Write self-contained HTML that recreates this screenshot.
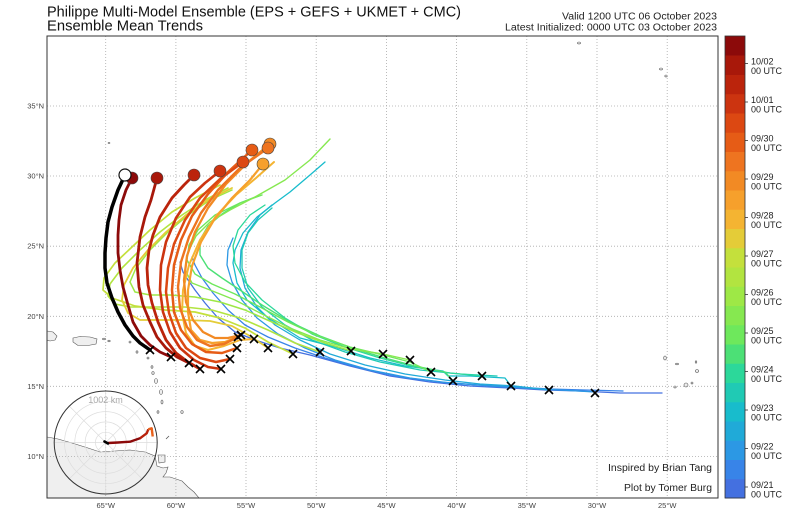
<!DOCTYPE html>
<html><head><meta charset="utf-8"><style>
html,body{margin:0;padding:0;background:#fff;}
svg{display:block;}
text{font-family:"Liberation Sans",sans-serif;}
</style></head><body>
<svg width="800" height="514" viewBox="0 0 800 514" xmlns="http://www.w3.org/2000/svg">
<rect width="800" height="514" fill="#fff"/>
<!-- titles -->
<text x="47" y="16.5" font-size="15" fill="#111" textLength="414" lengthAdjust="spacingAndGlyphs">Philippe Multi-Model Ensemble (EPS + GEFS + UKMET + CMC)</text>
<text x="47" y="30.5" font-size="15" fill="#111" textLength="156" lengthAdjust="spacingAndGlyphs">Ensemble Mean Trends</text>
<text x="717" y="19.3" font-size="10" fill="#222" text-anchor="end" textLength="155" lengthAdjust="spacingAndGlyphs">Valid 1200 UTC 06 October 2023</text>
<text x="717" y="30.7" font-size="10" fill="#222" text-anchor="end" textLength="212" lengthAdjust="spacingAndGlyphs">Latest Initialized: 0000 UTC 03 October 2023</text>

<defs><clipPath id="mapclip"><rect x="47" y="36" width="671" height="462"/></clipPath></defs>

<g clip-path="url(#mapclip)">
<!-- land -->
<g fill="#efefef" stroke="#555" stroke-width="0.6">
<path d="M47,437 L58,439 L72,443 L88,448 L100,452 L115,451 L130,450 L145,452 L155,456 L157,466 L163,468 L168,467 L166,473 L163,477 L170,477 L176,479 L182,481 L188,487 L194,492 L199,498 L47,498 Z"/>
<path d="M158,455 L165,455 L165,462 L159,463 Z"/>
<path d="M73,338 L80,336.5 L90,337 L97,339 L96,344 L88,345.5 L78,345.5 L73,342 Z"/>
<path d="M47,331 L53,332 L57,336 L55,340 L50,341 L47,340 Z"/>
<ellipse cx="104" cy="339" rx="1.5" ry="0.8"/>
<ellipse cx="109" cy="341" rx="1.2" ry="0.8"/>
<ellipse cx="130" cy="342" rx="1" ry="1"/>
<ellipse cx="137" cy="352" rx="1" ry="1.2"/>
<ellipse cx="148" cy="358" rx="1" ry="1"/>
<ellipse cx="152" cy="367" rx="1" ry="1.3"/>
<ellipse cx="153" cy="373" rx="1.2" ry="1.5"/>
<ellipse cx="156" cy="381" rx="1.5" ry="2.5"/>
<ellipse cx="161" cy="392" rx="1.5" ry="2.5"/>
<ellipse cx="162" cy="402" rx="1" ry="2"/>
<ellipse cx="158" cy="412" rx="1" ry="1.3"/>
<ellipse cx="182" cy="412" rx="1.2" ry="1.5"/>
<ellipse cx="109" cy="143" rx="1" ry="0.6"/>
<ellipse cx="579" cy="43" rx="1.5" ry="1"/>
<ellipse cx="661" cy="69" rx="1.5" ry="1"/>
<ellipse cx="666" cy="76" rx="1.2" ry="1"/>
<ellipse cx="665" cy="358" rx="1.3" ry="2"/>
<ellipse cx="677" cy="364" rx="1.5" ry="0.8"/>
<ellipse cx="696" cy="362" rx="0.8" ry="1.2"/>
<ellipse cx="697" cy="371" rx="1.5" ry="1.5"/>
<ellipse cx="675" cy="387" rx="1.2" ry="1"/>
<ellipse cx="686" cy="385" rx="2" ry="2"/>
<ellipse cx="692" cy="383" rx="1" ry="1"/>
</g>
<path d="M166,439 L169,436" stroke="#555" stroke-width="0.8"/>

<!-- gridlines -->
<g stroke="#aaa" stroke-width="0.8" stroke-dasharray="1,2">
<line x1="105.7" y1="36" x2="105.7" y2="498"/>
<line x1="175.9" y1="36" x2="175.9" y2="498"/>
<line x1="246" y1="36" x2="246" y2="498"/>
<line x1="316.2" y1="36" x2="316.2" y2="498"/>
<line x1="386.4" y1="36" x2="386.4" y2="498"/>
<line x1="456.6" y1="36" x2="456.6" y2="498"/>
<line x1="526.8" y1="36" x2="526.8" y2="498"/>
<line x1="597" y1="36" x2="597" y2="498"/>
<line x1="667.2" y1="36" x2="667.2" y2="498"/>
<line x1="47" y1="106" x2="718" y2="106"/>
<line x1="47" y1="176" x2="718" y2="176"/>
<line x1="47" y1="246.2" x2="718" y2="246.2"/>
<line x1="47" y1="316.3" x2="718" y2="316.3"/>
<line x1="47" y1="386.3" x2="718" y2="386.3"/>
<line x1="47" y1="456.4" x2="718" y2="456.4"/>
</g>

<!-- tracks -->
<g fill="none" stroke-linejoin="round" stroke-linecap="round">
<polyline stroke="#4470e0" stroke-width="1.3" points="662,393 620,393 580,391 545,390 510,388 470,386 430,382 390,376 350,366 310,355 280,348 255,340 235,332 218,318 205,303 195,290 188,280 183,272 180,262"/>
<polyline stroke="#3884e8" stroke-width="1.3" points="623,391 585,390 550,389 515,387 480,385 440,382 400,377 360,368 325,358 295,348 268,337 245,325 228,310 213,293 202,278 195,265 192,257"/>
<polyline stroke="#2c98e4" stroke-width="1.3" points="595,392 560,390 525,388 490,386 450,383 410,378 370,370 335,360 305,348 278,334 257,318 242,300 232,282 227,265 228,250 233,238"/>
<polyline stroke="#20aad8" stroke-width="1.3" points="549,390 515,386 480,384 445,380 405,374 365,365 330,354 300,340 275,325 257,307 245,288 240,268 241,250 248,232 260,215 272,205"/>
<polyline stroke="#18bccc" stroke-width="1.3" points="511,386 505,378 470,376 448,376 443,371 405,366 370,358 335,347 300,338 267,317 247,300 237,283 233,263 235,250 243,233 257,217 275,203 290,192 310,175 325,162"/>
<polyline stroke="#20cab4" stroke-width="1.3" points="497,376 460,374 420,370 380,362 345,352 312,340 285,325 262,307 248,288 242,268 242,250 248,233 258,220 272,208"/>
<polyline stroke="#2cd89a" stroke-width="1.3" points="482,376 450,373 415,367 380,358 345,347 312,334 285,318 262,300 245,282 235,263 233,246 238,230 250,215 265,205"/>
<polyline stroke="#4ce076" stroke-width="1.4" points="453,381 445,372 415,366 385,358 352,348 320,336 290,322 262,305 240,290 222,278 208,268 200,255 200,240 208,226 222,214 240,203 258,196"/>
<polyline stroke="#6ee85c" stroke-width="1.4" points="431,372 410,362 383,355 350,347 318,336 288,322 260,307 235,294 212,284 195,274 187,260 189,245 198,230 215,215 240,203 262,195"/>
<polyline stroke="#86e850" stroke-width="1.4" points="410,360 383,354 351,349 320,340 290,328 262,314 235,300 210,290 192,283 185,270 188,252 196,236 210,222 230,210 255,197 285,180 310,160 330,139"/>
<polyline stroke="#9ee846" stroke-width="1.5" points="351,351 325,343 298,333 272,322 245,310 220,302 195,297 170,295 150,295 135,292 130,282 136,268 150,250 168,232 188,215 210,200 232,190"/>
<polyline stroke="#b2e440" stroke-width="1.6" points="320,352 295,343 268,330 240,318 212,310 185,307 155,307 130,307 115,304 108,296 110,284 122,268 140,250 160,232 182,215 205,200 228,188"/>
<polyline stroke="#c4e03c" stroke-width="1.7" points="293,354 268,342 245,328 220,318 195,312 165,310 135,306 112,298 103,290 104,278 115,263 132,247 150,230 172,212 195,198 220,185"/>
<polyline stroke="#e4cc38" stroke-width="1.8" points="268,348 250,336 232,326 210,321 185,320 160,320 140,320 128,313 122,300 124,285 133,268 148,250 166,232 186,215 208,200 232,188"/>
<polyline stroke="#f4b432" stroke-width="2" points="254,339 240,340 224,346 208,350 195,346 186,333 182,313 183,290 189,265 200,240 216,216 236,195 256,178 274,162"/>
<polyline stroke="#f6a02c" stroke-width="2.2" points="240,336 225,342 212,343 200,340 191,330 188,312 188,290 192,266 201,242 214,220 232,198 250,180 263,164"/>
<polyline stroke="#f28a24" stroke-width="2.3" points="241,335 228,338 215,338 203,332 193,320 186,302 184,280 187,256 195,232 208,208 226,184 248,162 270,144"/>
<polyline stroke="#ee7420" stroke-width="2.4" points="238,337 224,344 210,346 197,340 187,327 180,308 178,287 181,262 189,237 201,213 218,190 240,168 268,148"/>
<polyline stroke="#e65c16" stroke-width="2.5" points="237,348 222,353 206,352 192,344 181,330 174,312 172,290 174,265 181,240 192,216 208,194 228,172 252,150"/>
<polyline stroke="#dc4812" stroke-width="2.5" points="230,359 216,362 200,358 186,348 176,333 169,313 166,292 168,268 174,244 185,220 200,198 220,179 243,162"/>
<polyline stroke="#cc3410" stroke-width="2.6" points="221,369 208,367 194,360 180,348 170,332 163,312 160,290 161,265 166,242 176,218 190,197 205,183 220,171"/>
<polyline stroke="#bb240c" stroke-width="2.8" points="200,369 188,362 176,353 166,340 158,322 152,303 148,285 147,268 149,250 153,235 160,217 172,198 184,185 194,175"/>
<polyline stroke="#a8180a" stroke-width="2.8" points="189,363 177,357 166,348 157,337 150,322 143,305 139,287 137,263 140,237 145,217 151,200 157,178"/>
<polyline stroke="#8c0a0a" stroke-width="2.8" points="171,357 160,352 150,345 141,336 133,322 128,305 123,287 120,270 118,253 118,235 119,220 121,205 126,190 132,178"/>
<polyline stroke="#000" stroke-width="3.5" points="150,350 140,343 133,336 125,325 118,312 112,298 107,283 105,268 105,253 106,238 108,222 112,207 118,190 125,175"/>
</g>

<!-- end circles -->
<g stroke="#444" stroke-width="0.6">
<circle cx="263" cy="164" r="6" fill="#f6a02c"/>
<circle cx="270" cy="144" r="6" fill="#f28a24"/>
<circle cx="268" cy="148" r="6" fill="#ee7420"/>
<circle cx="252" cy="150" r="6" fill="#e65c16"/>
<circle cx="243" cy="162" r="6" fill="#dc4812"/>
<circle cx="220" cy="171" r="6" fill="#cc3410"/>
<circle cx="194" cy="175" r="6" fill="#bb240c"/>
<circle cx="157" cy="178" r="6" fill="#a8180a"/>
<circle cx="132" cy="178" r="6" fill="#8c0a0a"/>
<circle cx="125" cy="175" r="6" fill="#fff" stroke="#111" stroke-width="1.2"/>
</g>

<!-- X markers -->
<g stroke="#000" stroke-width="1.6" fill="none">
<path d="M146,346l8,8m0,-8l-8,8"/>
<path d="M167,353l8,8m0,-8l-8,8"/>
<path d="M185,359l8,8m0,-8l-8,8"/>
<path d="M196,365l8,8m0,-8l-8,8"/>
<path d="M217,365l8,8m0,-8l-8,8"/>
<path d="M226,355l8,8m0,-8l-8,8"/>
<path d="M233,344l8,8m0,-8l-8,8"/>
<path d="M234,333l8,8m0,-8l-8,8"/>
<path d="M237,331l8,8m0,-8l-8,8"/>
<path d="M250,335l8,8m0,-8l-8,8"/>
<path d="M264,344l8,8m0,-8l-8,8"/>
<path d="M289,350l8,8m0,-8l-8,8"/>
<path d="M316,348l8,8m0,-8l-8,8"/>
<path d="M347,347l8,8m0,-8l-8,8"/>
<path d="M379,350l8,8m0,-8l-8,8"/>
<path d="M406,356l8,8m0,-8l-8,8"/>
<path d="M427,368l8,8m0,-8l-8,8"/>
<path d="M449,377l8,8m0,-8l-8,8"/>
<path d="M478,372l8,8m0,-8l-8,8"/>
<path d="M507,382l8,8m0,-8l-8,8"/>
<path d="M545,386l8,8m0,-8l-8,8"/>
<path d="M591,389l8,8m0,-8l-8,8"/>
</g>

<!-- inset polar -->
<g fill="none">
<g stroke="#ddd" stroke-width="0.7">
<circle cx="105.7" cy="442.5" r="10.3"/>
<circle cx="105.7" cy="442.5" r="20.6"/>
<circle cx="105.7" cy="442.5" r="30.9"/>
<circle cx="105.7" cy="442.5" r="41.2"/>
<line x1="105.7" y1="391" x2="105.7" y2="494"/>
<line x1="54.2" y1="442.5" x2="157.2" y2="442.5"/>
<line x1="69.3" y1="406.1" x2="142.1" y2="478.9"/>
<line x1="142.1" y1="406.1" x2="69.3" y2="478.9"/>
</g>
<circle cx="105.7" cy="442.5" r="51.5" stroke="#333" stroke-width="1"/>
<polyline stroke="#8c0a0a" stroke-width="2.4" stroke-linejoin="round" stroke-linecap="round" points="108,443 118,442.5 130,441.7 140,438.3"/>
<polyline stroke="#b8220c" stroke-width="2.4" stroke-linejoin="round" points="140,438.3 146.7,433.3 148.3,429.3"/>
<polyline stroke="#e8601a" stroke-width="2.4" stroke-linejoin="round" points="148.3,429.3 151.7,428.3 152.7,436.5"/>
<polyline stroke="#000" stroke-width="2.6" stroke-linecap="round" points="104.5,441.5 108,443.5"/>
</g>
<text x="105.5" y="403" font-size="9" fill="#aaa" text-anchor="middle">1002 km</text>

<!-- credits -->
<text x="712" y="471" font-size="10" fill="#222" text-anchor="end" textLength="104" lengthAdjust="spacingAndGlyphs">Inspired by Brian Tang</text>
<text x="712" y="491" font-size="10" fill="#222" text-anchor="end" textLength="88" lengthAdjust="spacingAndGlyphs">Plot by Tomer Burg</text>
</g>

<!-- map frame -->
<rect x="47" y="36" width="671" height="462" fill="none" stroke="#333" stroke-width="1"/>

<!-- lat labels -->
<g font-size="7.5" fill="#444" text-anchor="end">
<text x="44" y="108.5">35°N</text>
<text x="44" y="178.5">30°N</text>
<text x="44" y="248.7">25°N</text>
<text x="44" y="318.8">20°N</text>
<text x="44" y="388.8">15°N</text>
<text x="44" y="458.9">10°N</text>
</g>
<!-- lon labels -->
<g font-size="7.5" fill="#444" text-anchor="middle">
<text x="105.7" y="508">65°W</text>
<text x="175.9" y="508">60°W</text>
<text x="246" y="508">55°W</text>
<text x="316.2" y="508">50°W</text>
<text x="386.4" y="508">45°W</text>
<text x="456.6" y="508">40°W</text>
<text x="526.8" y="508">35°W</text>
<text x="597" y="508">30°W</text>
<text x="667.2" y="508">25°W</text>
</g>

<!-- colorbar -->
<g>
<rect x="725" y="478.75" width="20" height="19.75" fill="#4470e0"/>
<rect x="725" y="459.5" width="20" height="19.75" fill="#3884e8"/>
<rect x="725" y="440.25" width="20" height="19.75" fill="#2c98e4"/>
<rect x="725" y="421" width="20" height="19.75" fill="#20aad8"/>
<rect x="725" y="401.75" width="20" height="19.75" fill="#18bccc"/>
<rect x="725" y="382.5" width="20" height="19.75" fill="#20cab4"/>
<rect x="725" y="363.25" width="20" height="19.75" fill="#2cd89a"/>
<rect x="725" y="344" width="20" height="19.75" fill="#4ce076"/>
<rect x="725" y="324.75" width="20" height="19.75" fill="#6ee85c"/>
<rect x="725" y="305.5" width="20" height="19.75" fill="#86e850"/>
<rect x="725" y="286.25" width="20" height="19.75" fill="#9ee846"/>
<rect x="725" y="267" width="20" height="19.75" fill="#b2e440"/>
<rect x="725" y="247.75" width="20" height="19.75" fill="#c4e03c"/>
<rect x="725" y="228.5" width="20" height="19.75" fill="#e4cc38"/>
<rect x="725" y="209.25" width="20" height="19.75" fill="#f4b432"/>
<rect x="725" y="190" width="20" height="19.75" fill="#f6a02c"/>
<rect x="725" y="170.75" width="20" height="19.75" fill="#f28a24"/>
<rect x="725" y="151.5" width="20" height="19.75" fill="#ee7420"/>
<rect x="725" y="132.25" width="20" height="19.75" fill="#e65c16"/>
<rect x="725" y="113" width="20" height="19.75" fill="#dc4812"/>
<rect x="725" y="93.75" width="20" height="19.75" fill="#cc3410"/>
<rect x="725" y="74.5" width="20" height="19.75" fill="#bb240c"/>
<rect x="725" y="55.25" width="20" height="19.75" fill="#a8180a"/>
<rect x="725" y="36" width="20" height="19.5" fill="#8c0a0a"/>
<rect x="725" y="36" width="20" height="462" fill="none" stroke="#333" stroke-width="0.8"/>
</g>
<g stroke="#333" stroke-width="0.8">
<line x1="745" y1="487" x2="748" y2="487"/>
<line x1="745" y1="448.5" x2="748" y2="448.5"/>
<line x1="745" y1="410" x2="748" y2="410"/>
<line x1="745" y1="371.5" x2="748" y2="371.5"/>
<line x1="745" y1="333" x2="748" y2="333"/>
<line x1="745" y1="294.5" x2="748" y2="294.5"/>
<line x1="745" y1="256" x2="748" y2="256"/>
<line x1="745" y1="217.5" x2="748" y2="217.5"/>
<line x1="745" y1="179" x2="748" y2="179"/>
<line x1="745" y1="140.5" x2="748" y2="140.5"/>
<line x1="745" y1="102" x2="748" y2="102"/>
<line x1="745" y1="63.5" x2="748" y2="63.5"/>
</g>
<g font-size="9" fill="#222">
<text x="751" y="488">09/21</text><text x="751" y="497.5">00 UTC</text>
<text x="751" y="449.5">09/22</text><text x="751" y="459">00 UTC</text>
<text x="751" y="411">09/23</text><text x="751" y="420.5">00 UTC</text>
<text x="751" y="372.5">09/24</text><text x="751" y="382">00 UTC</text>
<text x="751" y="334">09/25</text><text x="751" y="343.5">00 UTC</text>
<text x="751" y="295.5">09/26</text><text x="751" y="305">00 UTC</text>
<text x="751" y="257">09/27</text><text x="751" y="266.5">00 UTC</text>
<text x="751" y="218.5">09/28</text><text x="751" y="228">00 UTC</text>
<text x="751" y="180">09/29</text><text x="751" y="189.5">00 UTC</text>
<text x="751" y="141.5">09/30</text><text x="751" y="151">00 UTC</text>
<text x="751" y="103">10/01</text><text x="751" y="112.5">00 UTC</text>
<text x="751" y="64.5">10/02</text><text x="751" y="74">00 UTC</text>
</g>
</svg>
</body></html>
